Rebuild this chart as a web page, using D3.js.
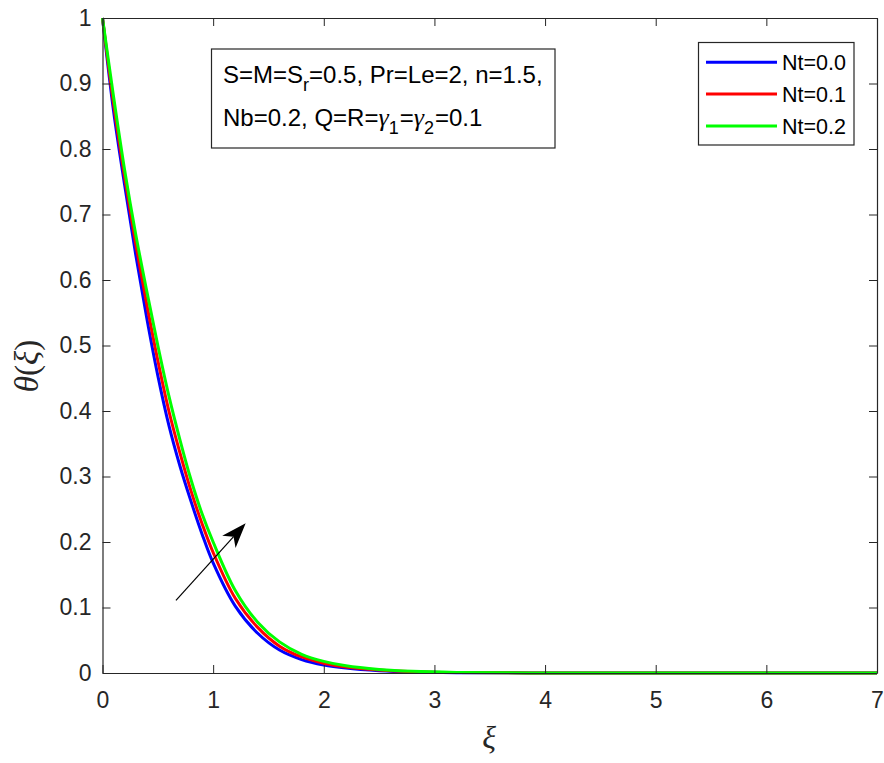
<!DOCTYPE html>
<html>
<head>
<meta charset="utf-8">
<script src="https://cdn.jsdelivr.net/npm/d3@7"></script>
<style>
  html, body { margin: 0; padding: 0; background: #ffffff; }
  svg { display: block; }
  .tick text { font-family: Arial, "Liberation Sans", Helvetica, sans-serif; fill: #262626; }
</style>
</head>
<body>
<svg id="chart" width="884" height="763"></svg>
<script>
// Temperature profiles theta(xi) for three thermophoresis parameters Nt
const xiGrid = [0, 0.1, 0.2, 0.3, 0.4, 0.5, 0.6, 0.7, 0.8, 0.9, 1.0, 1.2, 1.4, 1.6, 1.8, 2.0, 2.2, 2.5, 2.8, 3.2, 4, 5, 6, 7];
const thetaNt00 = [1, 0.858, 0.745, 0.639, 0.542, 0.454, 0.378, 0.316, 0.262, 0.212, 0.168, 0.102, 0.061, 0.035, 0.0205, 0.0122, 0.0075, 0.0035, 0.0015, 0.0005, 0.0001, 0, 0, 0];
const thetaNt01 = [1, 0.869, 0.757, 0.655, 0.563, 0.477, 0.400, 0.336, 0.278, 0.228, 0.184, 0.114, 0.070, 0.041, 0.0245, 0.015, 0.0092, 0.0045, 0.002, 0.0007, 0.0001, 0, 0, 0];
const thetaNt02 = [1, 0.880, 0.768, 0.670, 0.583, 0.500, 0.423, 0.356, 0.295, 0.243, 0.200, 0.126, 0.078, 0.0475, 0.0286, 0.0178, 0.011, 0.0055, 0.0025, 0.0009, 0.0001, 0, 0, 0];
const seriesLabels = ["Nt=0.0", "Nt=0.1", "Nt=0.2"];
const seriesColors = ["#0000ff", "#ff0000", "#00ff00"];
const xTicks = [0, 1, 2, 3, 4, 5, 6, 7];
const yTicks = [0, 0.1, 0.2, 0.3, 0.4, 0.5, 0.6, 0.7, 0.8, 0.9, 1];
// Trend arrow (data coordinates): increasing Nt
const arrowFrom = [0.664, 0.111];
const arrowTo = [1.294, 0.2285];

const svg = d3.select("#chart");
const plot = { left: 102.5, right: 877, top: 18, bottom: 673 };
const axisColor = "#262626";

const x = d3.scaleLinear().domain([0, 7]).range([plot.left, plot.right]);
const y = d3.scaleLinear().domain([0, 1]).range([plot.bottom, plot.top]);

svg.append("rect").attr("width", 884).attr("height", 763).attr("fill", "#ffffff");

// Curves
const series = [thetaNt00, thetaNt01, thetaNt02];
const line = d3.line()
  .x(d => x(d[0]))
  .y(d => y(d[1]))
  .curve(d3.curveCatmullRom.alpha(0.5));

const curves = svg.append("g");
series.forEach((vals, i) => {
  curves.append("path")
    .datum(xiGrid.map((xi, k) => [xi, vals[k]]))
    .attr("fill", "none")
    .attr("stroke", seriesColors[i])
    .attr("stroke-width", 3)
    .attr("stroke-linejoin", "round")
    .attr("d", line);
});

// Axes (ticks pointing inward, box on all four sides)
const fmtY = d => d === 0 ? "0" : d === 1 ? "1" : d3.format(".1f")(d);
const gx = svg.append("g").attr("transform", `translate(0,${plot.bottom})`)
  .call(d3.axisBottom(x).tickValues(xTicks).tickFormat(d3.format("d")).tickSizeInner(-8).tickSizeOuter(0).tickPadding(19));
const gy = svg.append("g").attr("transform", `translate(${plot.left},0)`)
  .call(d3.axisLeft(y).tickValues(yTicks).tickFormat(fmtY).tickSizeInner(-8).tickSizeOuter(0).tickPadding(11));
const gt = svg.append("g").attr("transform", `translate(0,${plot.top})`)
  .call(d3.axisTop(x).tickValues(xTicks).tickFormat("").tickSizeInner(-8).tickSizeOuter(0));
const gr = svg.append("g").attr("transform", `translate(${plot.right},0)`)
  .call(d3.axisRight(y).tickValues(yTicks).tickFormat("").tickSizeInner(-8).tickSizeOuter(0));

[gx, gy, gt, gr].forEach(g => {
  g.select(".domain").attr("stroke", axisColor).attr("stroke-width", 1.2);
  g.selectAll(".tick line").attr("stroke", axisColor).attr("stroke-width", 1);
  g.selectAll(".tick text").attr("font-size", 23).attr("fill", axisColor);
});

// Axis titles
svg.append("text")
  .attr("x", 489).attr("y", 748)
  .attr("text-anchor", "middle")
  .attr("font-family", "'Liberation Serif', 'DejaVu Serif', serif")
  .attr("font-style", "italic")
  .attr("font-size", 32)
  .attr("fill", axisColor)
  .text("ξ");

const yl = svg.append("text")
  .attr("transform", "translate(38,366) rotate(-90)")
  .attr("text-anchor", "middle")
  .attr("font-family", "'Liberation Serif', 'DejaVu Serif', serif")
  .attr("font-size", 33)
  .attr("fill", axisColor);
yl.append("tspan").attr("font-style", "italic").text("θ");
yl.append("tspan").text("(");
yl.append("tspan").attr("font-style", "italic").text("ξ");
yl.append("tspan").text(")");

// Arrow indicating increasing Nt
const ax0 = x(arrowFrom[0]), ay0 = y(arrowFrom[1]);
const ax1 = x(arrowTo[0]), ay1 = y(arrowTo[1]);
const ang = Math.atan2(ay1 - ay0, ax1 - ax0);
const headLen = 25, headHalf = 9, notch = 18;
const ux = Math.cos(ang), uy = Math.sin(ang);
const px = -uy, py = ux;
const bx = ax1 - ux * headLen, by = ay1 - uy * headLen;
const nx = ax1 - ux * notch, ny = ay1 - uy * notch;
svg.append("line")
  .attr("x1", ax0).attr("y1", ay0).attr("x2", nx).attr("y2", ny)
  .attr("stroke", "#000").attr("stroke-width", 1.2);
svg.append("path")
  .attr("d", `M${ax1},${ay1} L${bx + px * headHalf},${by + py * headHalf} L${nx},${ny} L${bx - px * headHalf},${by - py * headHalf} Z`)
  .attr("fill", "#000");

// Parameter annotation box
const ann = svg.append("g");
ann.append("rect")
  .attr("x", 211.5).attr("y", 49).attr("width", 343.5).attr("height", 99)
  .attr("fill", "#ffffff").attr("stroke", axisColor).attr("stroke-width", 1.2);
const annFont = "Arial, 'Liberation Sans', Helvetica, sans-serif";
const t1 = ann.append("text").attr("x", 223).attr("y", 83)
  .attr("font-family", annFont).attr("font-size", 24).attr("fill", "#000");
t1.append("tspan").text("S=M=S");
t1.append("tspan").attr("dy", 8).attr("font-size", 18).text("r");
t1.append("tspan").attr("dy", -8).text("=0.5, Pr=Le=2, n=1.5,");
const t2 = ann.append("text").attr("x", 223).attr("y", 126)
  .attr("font-family", annFont).attr("font-size", 24).attr("fill", "#000");
t2.append("tspan").text("Nb=0.2, Q=R=");
t2.append("tspan").attr("font-family", "'Liberation Serif', serif").attr("font-style", "italic").attr("font-size", 26).text("γ");
t2.append("tspan").attr("dy", 8).attr("font-size", 18).text("1");
t2.append("tspan").attr("dy", -8).attr("dx", 1).text("=");
t2.append("tspan").attr("font-family", "'Liberation Serif', serif").attr("font-style", "italic").attr("font-size", 26).text("γ");
t2.append("tspan").attr("dy", 8).attr("font-size", 18).text("2");
t2.append("tspan").attr("dy", -8).attr("dx", 1).text("=0.1");

// Legend
const lg = svg.append("g");
lg.append("rect")
  .attr("x", 698.5).attr("y", 42.5).attr("width", 155.5).attr("height", 102.5)
  .attr("fill", "#ffffff").attr("stroke", axisColor).attr("stroke-width", 1.2);
const legendY = [62.3, 94, 126];
seriesLabels.forEach((lab, i) => {
  lg.append("line")
    .attr("x1", 706).attr("x2", 777)
    .attr("y1", legendY[i]).attr("y2", legendY[i])
    .attr("stroke", seriesColors[i]).attr("stroke-width", 3);
  lg.append("text")
    .attr("x", 782).attr("y", legendY[i])
    .attr("dy", "0.35em")
    .attr("font-family", annFont).attr("font-size", 21.5).attr("fill", "#000")
    .text(lab);
});
</script>
</body>
</html>
